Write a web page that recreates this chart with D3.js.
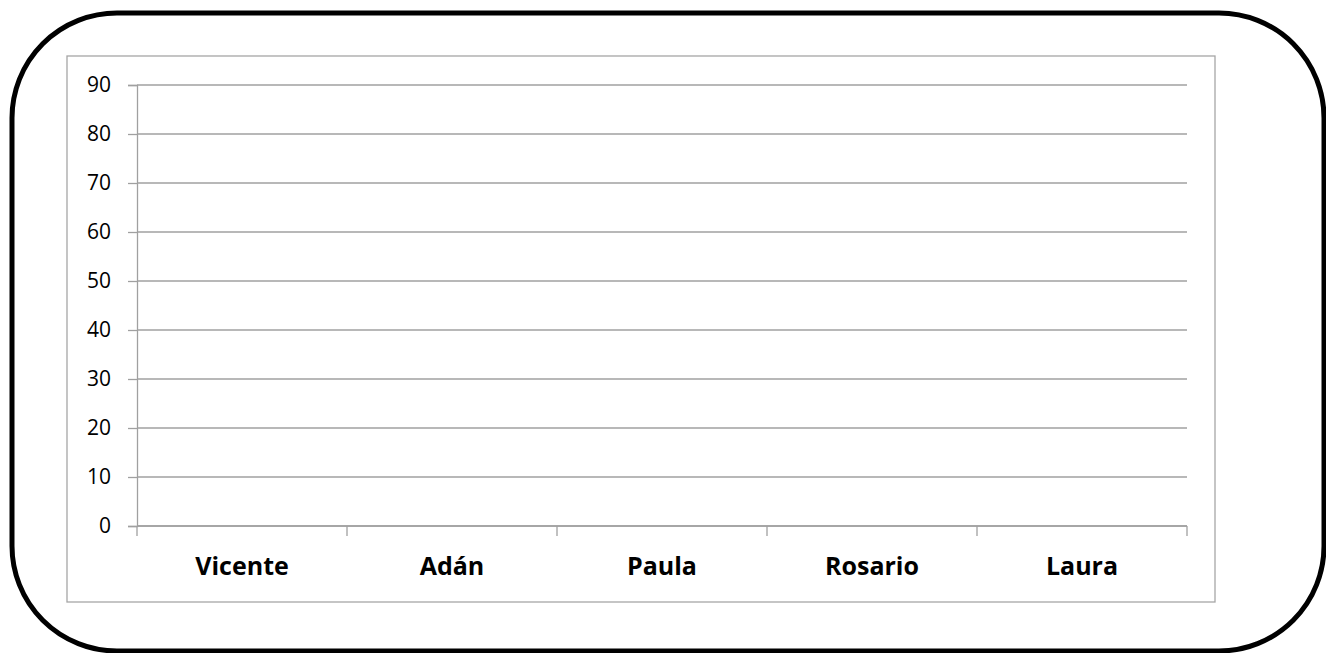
<!DOCTYPE html>
<html>
<head>
<meta charset="utf-8">
<script src="https://cdn.jsdelivr.net/npm/d3@7"></script>
<style>
  html, body { margin: 0; padding: 0; background: #fff; }
  svg { display: block; }
</style>
</head>
<body>
<svg id="chart" width="1326" height="653"></svg>
<script>
  // Chart data
  const categories = ["Vicente", "Adán", "Paula", "Rosario", "Laura"];
  const values = [0, 0, 0, 0, 0]; // empty series, nothing visible in the picture
  const yTicks = [0, 10, 20, 30, 40, 50, 60, 70, 80, 90];

  // Dimensions
  const width = 1326;
  const height = 653;
  const plotLeft = 137;
  const plotRight = 1187;
  const plotTop = 85;
  const plotBottom = 526;
  const gridColor = "#a0a0a0";

  const svg = d3.select("#chart");

  // Outer rounded frame
  svg
    .append("rect")
    .attr("x", 12)
    .attr("y", 13)
    .attr("width", 1312)
    .attr("height", 638)
    .attr("rx", 105)
    .attr("ry", 105)
    .attr("fill", "#fff")
    .attr("stroke", "#000")
    .attr("stroke-width", 5);

  // Chart area box
  svg
    .append("rect")
    .attr("x", 67)
    .attr("y", 56)
    .attr("width", 1148)
    .attr("height", 546)
    .attr("fill", "none")
    .attr("stroke", "#a6a6a6")
    .attr("stroke-width", 1.3);

  // Scales
  const x = d3
    .scaleBand()
    .domain(categories)
    .range([plotLeft, plotRight]);

  const y = d3
    .scaleLinear()
    .domain([0, 90])
    .range([plotBottom, plotTop]);

  // Gridlines + y ticks
  const yAxis = svg
    .append("g")
    .attr("transform", `translate(${plotLeft},0)`)
    .call(
      d3
        .axisLeft(y)
        .tickValues(yTicks)
        .tickSize(9)
        .tickPadding(17)
    );
  yAxis.select(".domain").attr("stroke", gridColor).attr("stroke-width", 1.3);
  yAxis.selectAll(".tick line").attr("stroke", gridColor).attr("stroke-width", 1.3);
  yAxis
    .selectAll(".tick text")
    .attr("fill", "#000")
    .style("font-family", "'Open Sans', sans-serif")
    .style("font-size", "21px");

  svg
    .append("g")
    .selectAll("line")
    .data(yTicks)
    .enter()
    .append("line")
    .attr("x1", plotLeft)
    .attr("x2", plotRight)
    .attr("y1", (d) => y(d))
    .attr("y2", (d) => y(d))
    .attr("stroke", gridColor)
    .attr("stroke-width", 1.3);

  // Bars (all zero)
  svg
    .append("g")
    .selectAll("rect")
    .data(values)
    .enter()
    .append("rect")
    .attr("x", (d, i) => x(categories[i]) + x.bandwidth() * 0.2)
    .attr("y", (d) => y(d))
    .attr("width", x.bandwidth() * 0.6)
    .attr("height", (d) => y(0) - y(d))
    .attr("fill", "#4f81bd");

  // X axis with ticks between categories
  const boundaries = categories.map((c) => x(c)).concat([plotRight]);
  svg
    .append("line")
    .attr("x1", plotLeft)
    .attr("x2", plotRight)
    .attr("y1", y(0))
    .attr("y2", y(0))
    .attr("stroke", gridColor)
    .attr("stroke-width", 1.3);

  svg
    .append("g")
    .selectAll("line")
    .data(boundaries)
    .enter()
    .append("line")
    .attr("x1", (d) => d)
    .attr("x2", (d) => d)
    .attr("y1", y(0))
    .attr("y2", y(0) + 10)
    .attr("stroke", gridColor)
    .attr("stroke-width", 1.3);

  svg
    .append("g")
    .selectAll("text")
    .data(categories)
    .enter()
    .append("text")
    .attr("x", (d) => x(d) + x.bandwidth() / 2)
    .attr("y", 575)
    .attr("text-anchor", "middle")
    .style("font-family", "'Open Sans', sans-serif")
    .style("font-size", "25px")
    .style("font-weight", "bold")
    .text((d) => d);
</script>
</body>
</html>
